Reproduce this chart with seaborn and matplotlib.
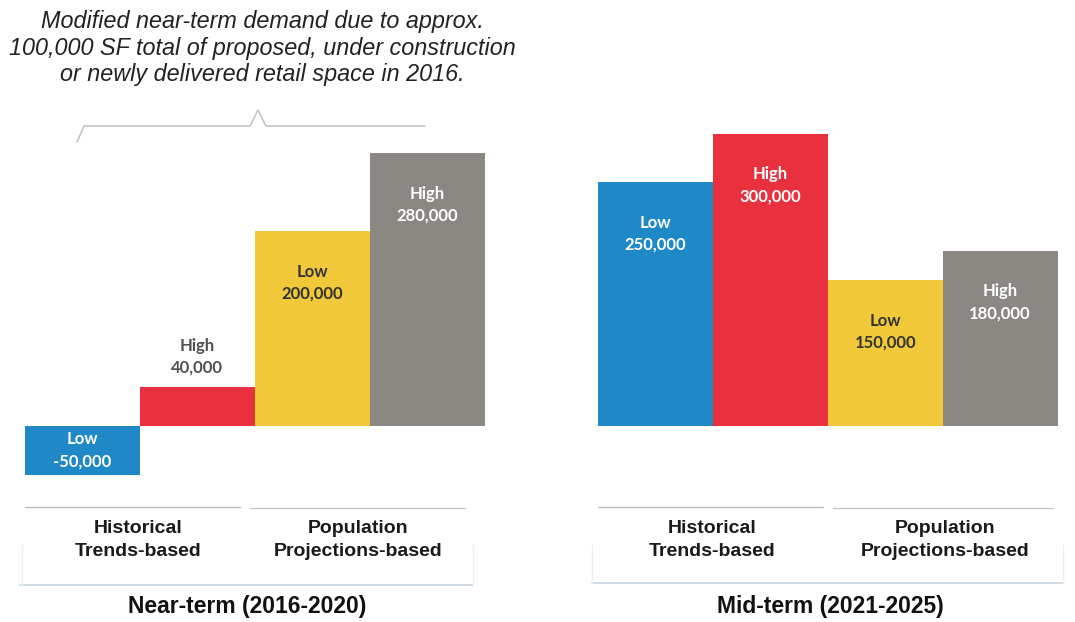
import matplotlib
matplotlib.use("Agg")
import matplotlib.pyplot as plt
import seaborn as sns
import pandas as pd
import numpy as np

sns.set_theme(style="white")
plt.rcParams['font.family'] = ['Liberation Sans', 'DejaVu Sans']

# ---- data ----
bars = ["Hist Low", "Hist High", "Pop Low", "Pop High"]
levels = ["Low", "High", "Low", "High"]
near_term = [-50000, 40000, 200000, 280000]
mid_term = [250000, 300000, 150000, 180000]
colors = ["#1f88c6", "#e8303f", "#f1c83a", "#8b8883"]
near_text_colors = ["white", "#505050", "#333333", "white"]
mid_text_colors = ["white", "white", "#333333", "white"]
group_labels = ["Historical\nTrends-based", "Population\nProjections-based"]
panel_titles = ["Near-term (2016-2020)", "Mid-term (2021-2025)"]
note = ("Modified near-term demand due to approx.\n"
        "100,000 SF total of proposed, under construction\n"
        "or newly delivered retail space in 2016.")

W, H = 1075, 622
fig = plt.figure(figsize=(W / 100, H / 100), dpi=100)
fig.patch.set_facecolor("white")

# overlay axes in pixel coords
ov = fig.add_axes([0, 0, 1, 1], zorder=0)
ov.set_xlim(0, W)
ov.set_ylim(H, 0)
ov.axis("off")

ylim = (-75900, 334400)
panels = [
    (25, near_term, near_text_colors),
    (598, mid_term, mid_text_colors),
]

for left_px, vals, tcols in panels:
    ax = fig.add_axes([left_px / W, (H - 500) / H, 459.5 / W, 400 / H], zorder=1)
    ax.patch.set_alpha(0)
    df = pd.DataFrame({"bar": bars, "value": vals})
    sns.barplot(data=df, x="bar", y="value", hue="bar", order=bars,
                palette=dict(zip(bars, colors)), width=1.0, dodge=False,
                legend=False, ax=ax, saturation=1, linewidth=0)
    ax.set_xlim(-0.5, 3.5)
    ax.set_ylim(*ylim)
    ax.axis("off")
    for i, (lv, v, tc) in enumerate(zip(levels, vals, tcols)):
        if v < 0:
            y = v / 2
        elif v < 60000:
            y = v + 31000
        else:
            y = v - 53000
        ax.text(i, y, f"{lv}\n{v:,}", ha="center", va="center", color=tc,
                fontsize=12, fontweight="bold", family=["Lato", "DejaVu Sans"],
                linespacing=1.45)

lab_kw = dict(ha="center", va="center", fontsize=14, fontweight="bold",
              color="#1a1a1a", linespacing=1.5)
title_kw = dict(ha="center", va="center", fontsize=16.5, fontweight="bold",
                color="#111111")

# near-term underlines and bracket
ov.plot([25, 240], [507, 507], color="#b8bcc0", lw=1)
ov.plot([250, 465], [508, 508], color="#c4c8cc", lw=1)
ov.plot([20, 473], [585, 585], color="#c9d6e2", lw=1.2)
ov.plot([22, 22], [545, 585], color="#eceef0", lw=1)
ov.plot([473, 473], [545, 585], color="#eceef0", lw=1)
ov.text(138, 540, group_labels[0], **lab_kw)
ov.text(358, 540, group_labels[1], **lab_kw)
ov.text(247, 607, panel_titles[0], **title_kw)

# mid-term underlines and bracket
ov.plot([598, 823], [507, 507], color="#b8bcc0", lw=1)
ov.plot([833, 1053], [508, 508], color="#c4c8cc", lw=1)
ov.plot([592, 1063], [583, 583], color="#c9d6e2", lw=1.2)
ov.plot([592, 592], [545, 583], color="#eceef0", lw=1)
ov.plot([1063, 1063], [545, 583], color="#eceef0", lw=1)
ov.text(712, 540, group_labels[0], **lab_kw)
ov.text(945, 540, group_labels[1], **lab_kw)
ov.text(830, 607, panel_titles[1], **title_kw)

# top note and curly brace
ov.text(262, 48, note, ha="center", va="center", fontsize=16.8, style="italic",
        color="#222222", linespacing=1.2)
brace_col = "#c4c4c4"
ov.plot([77, 84, 250, 258, 266, 425], [142, 126, 126, 110, 126, 126],
        color=brace_col, lw=1.2)

fig.savefig("out.png", dpi=100, facecolor="white")
